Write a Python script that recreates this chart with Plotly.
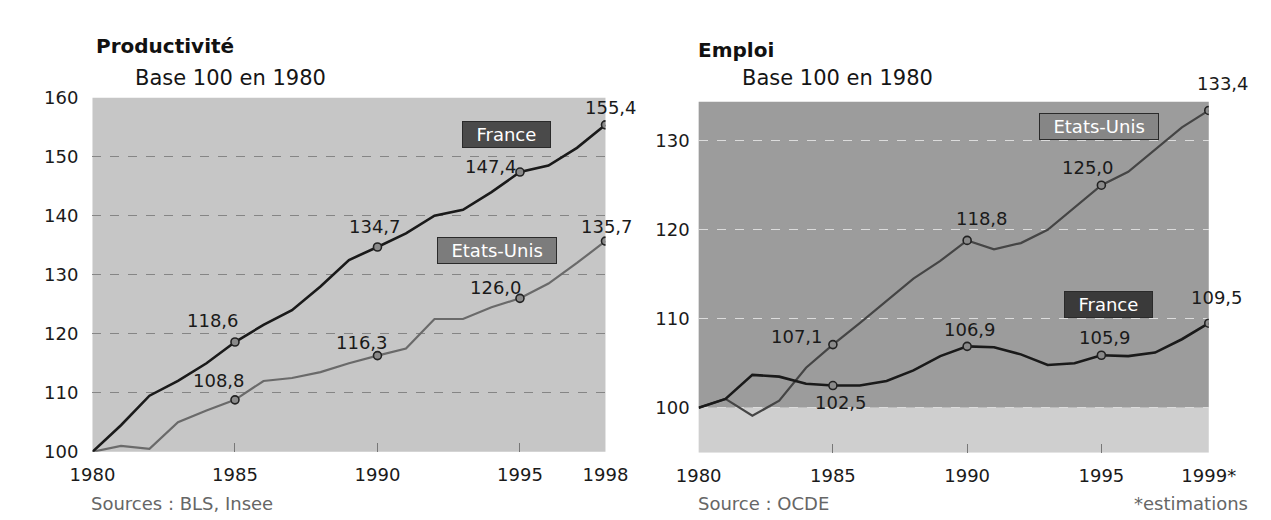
import plotly.graph_objects as go

# ---------------- data ----------------
years_prod = list(range(1980, 1999))
prod_france = [100, 104.5, 109.5, 112, 115, 118.6, 121.5, 124, 128, 132.5, 134.7,
               137, 140, 141, 144, 147.4, 148.5, 151.5, 155.4]
prod_us = [100, 101, 100.5, 105, 107, 108.8, 112, 112.5, 113.5, 115, 116.3,
           117.5, 122.5, 122.5, 124.5, 126.0, 128.5, 132, 135.7]

years_emp = list(range(1980, 2000))
emp_us = [100, 101, 99.1, 100.8, 104.5, 107.1, 109.5, 112, 114.5, 116.5, 118.8,
          117.8, 118.5, 120, 122.5, 125.0, 126.5, 129, 131.5, 133.4]
emp_france = [100, 101, 103.7, 103.5, 102.7, 102.5, 102.5, 103, 104.2, 105.8, 106.9,
              106.8, 106, 104.8, 105, 105.9, 105.8, 106.2, 107.7, 109.5]

prod_xticks = [1980, 1985, 1990, 1995, 1998]
prod_xtext = ["1980", "1985", "1990", "1995", "1998"]
emp_xticks = [1980, 1985, 1990, 1995, 1999]
emp_xtext = ["1980", "1985", "1990", "1995", "1999*"]
prod_yticks = [100, 110, 120, 130, 140, 150, 160]
emp_yticks = [100, 110, 120, 130]

prod_mark_years = [1985, 1990, 1995, 1998]
emp_mark_years = [1985, 1990, 1995, 1999]

W, H = 1271, 520
def px(x): return x / W
def py(y): return 1 - y / H

def fmt(v):
    return f"{v:.1f}".replace(".", ",")

FONT = "DejaVu Sans"
fig = go.Figure()

# lines
fig.add_trace(go.Scatter(x=years_prod, y=prod_us, mode="lines",
                         line=dict(color="#6a6a6a", width=2.2), xaxis="x", yaxis="y",
                         showlegend=False, hoverinfo="skip"))
fig.add_trace(go.Scatter(x=years_prod, y=prod_france, mode="lines",
                         line=dict(color="#1a1a1a", width=2.6), xaxis="x", yaxis="y",
                         showlegend=False, hoverinfo="skip"))
fig.add_trace(go.Scatter(x=years_emp, y=emp_us, mode="lines",
                         line=dict(color="#454545", width=2.2), xaxis="x2", yaxis="y2",
                         showlegend=False, hoverinfo="skip"))
fig.add_trace(go.Scatter(x=years_emp, y=emp_france, mode="lines",
                         line=dict(color="#1a1a1a", width=2.6), xaxis="x2", yaxis="y2",
                         showlegend=False, hoverinfo="skip"))

annotations = []

def labels(years, series, yrs, xa, ya, offsets):
    ys = [series[years.index(y)] for y in yrs]
    fig.add_trace(go.Scatter(x=yrs, y=ys, mode="markers",
                             marker=dict(size=8, color="#8a8a8a",
                                         line=dict(color="#222", width=1.6)),
                             xaxis=xa, yaxis=ya, showlegend=False, hoverinfo="skip"))
    for x, y, (dx, dy) in zip(yrs, ys, offsets):
        annotations.append(dict(x=x, y=y, xref=xa, yref=ya, text=fmt(y),
                                showarrow=False, xshift=dx, yshift=dy,
                                xanchor="center", yanchor="middle",
                                font=dict(family=FONT, size=18, color="#1a1a1a")))

labels(years_prod, prod_france, prod_mark_years, "x", "y",
       [(-22, 22), (-2, 20), (-29, 6), (6, 17)])
labels(years_prod, prod_us, prod_mark_years, "x", "y",
       [(-16, 19), (-15, 13), (-24, 11), (2, 15)])
labels(years_emp, emp_us, emp_mark_years, "x2", "y2",
       [(-36, 8), (15, 22), (-13, 18), (14, 27)])
labels(years_emp, emp_france, emp_mark_years, "x2", "y2",
       [(8, -17), (3, 17), (4, 18), (8, 26)])

# series name boxes (paper positions)
def box(x, y, text, bg):
    pad = "&nbsp;&nbsp;"
    annotations.append(dict(x=px(x), y=py(y), xref="paper", yref="paper",
                            text=pad + text + pad, showarrow=False,
                            xanchor="center", yanchor="middle",
                            bgcolor=bg, bordercolor="#2a2a2a", borderwidth=1, borderpad=2,
                            font=dict(family=FONT, size=18, color="white")))

box(495, 120, "France", "#4a4a4a")
box(485, 241, "Etats-Unis", "#7c7c7c")
box(1112, 112, "Etats-Unis", "#868686")
box(1122, 298, "France", "#3a3a3a")

# titles and sources
def text(x, y, s, size, color="#111", weight="normal", family=FONT, xanchor="left"):
    annotations.append(dict(x=px(x), y=py(y), xref="paper", yref="paper", text=s,
                            showarrow=False, xanchor=xanchor, yanchor="middle",
                            font=dict(family=family, size=size, color=color, weight=weight)))

text(66, 28, "Productivité", 20, weight="bold")
text(106, 62, "Base 100 en 1980", 21, color="#151515")
text(692, 32, "Emploi", 20, weight="bold")
text(738, 62, "Base 100 en 1980", 21, color="#151515")
text(60, 505, "Sources : BLS, Insee", 18, color="#666")
text(692, 505, "Source : OCDE", 18, color="#666")
text(1269, 505, "*estimations", 18, color="#666", xanchor="right")

# backgrounds
shapes = [
    dict(type="rect", xref="x domain", yref="y domain", x0=0, x1=1, y0=0, y1=1,
         fillcolor="#c6c6c6", line=dict(width=0), layer="below"),
    dict(type="rect", xref="x2 domain", yref="y2", x0=0, x1=1, y0=100, y1=134.4,
         fillcolor="#9c9c9c", line=dict(width=0), layer="below"),
    dict(type="rect", xref="x2 domain", yref="y2", x0=0, x1=1, y0=94.95, y1=100,
         fillcolor="#cfcfcf", line=dict(width=0), layer="below"),
]

tickfont = dict(family=FONT, size=18, color="#1a1a1a")

fig.update_layout(
    width=W, height=H, autosize=False,
    margin=dict(l=0, r=0, t=0, b=0),
    paper_bgcolor="white", plot_bgcolor="rgba(0,0,0,0)",
    shapes=shapes, annotations=annotations,
    xaxis=dict(domain=[px(64), px(598)], range=[1980, 1998], tickvals=prod_xticks,
               ticktext=prod_xtext, showgrid=False, zeroline=False, showline=False,
               ticks="inside", ticklen=9, tickcolor="#777", tickfont=tickfont,
               ticklabelstandoff=10, anchor="y"),
    yaxis=dict(domain=[py(451), py(82)], range=[100, 160], tickvals=prod_yticks,
               showgrid=True, gridcolor="#858585", griddash="dash", gridwidth=1,
               zeroline=False, showline=False, ticks="", tickfont=tickfont,
               ticklabelstandoff=13, anchor="x"),
    xaxis2=dict(domain=[px(695), px(1226)], range=[1980, 1999], tickvals=emp_xticks,
                ticktext=emp_xtext, showgrid=False, zeroline=False, showline=False,
                ticks="inside", ticklen=9, tickcolor="#777", tickfont=tickfont,
                ticklabelstandoff=10, anchor="y2"),
    yaxis2=dict(domain=[py(452), py(86)], range=[94.95, 134.4], tickvals=emp_yticks,
                showgrid=True, gridcolor="#dcdcdc", griddash="dash", gridwidth=1,
                zeroline=False, showline=False, ticks="", tickfont=tickfont,
                ticklabelstandoff=8, anchor="x2"),
)

fig.write_html("out.html")
